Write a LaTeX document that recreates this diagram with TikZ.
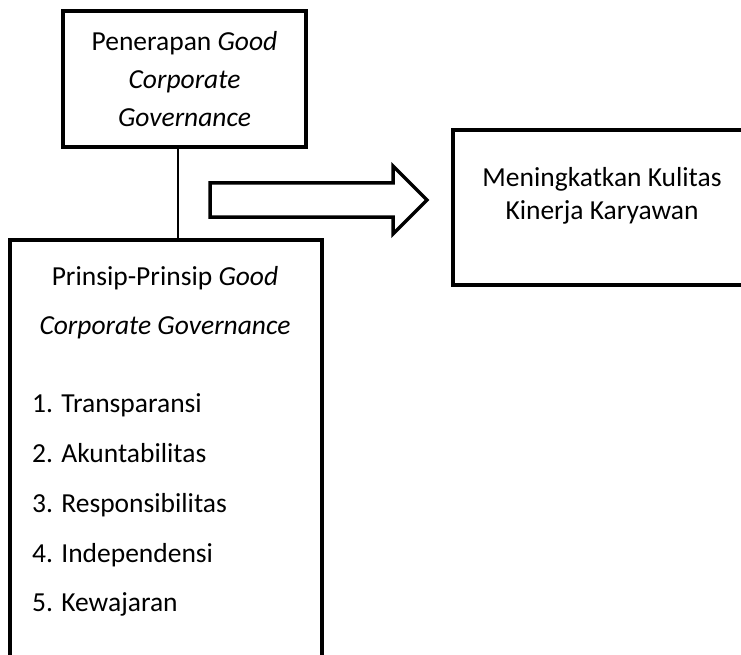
\documentclass[tikz,border=0pt]{standalone}
\usepackage{fontspec}
\setmainfont{Carlito}
\usetikzlibrary{positioning, calc}

\begin{document}
\begin{tikzpicture}[
            x=1pt, y=-1pt,
            box/.style={rectangle, draw, line width=3.5pt, inner sep=0pt, outer sep=0pt},
            txt/.style={font=\fontsize{27.5}{38}\selectfont, align=center, inner sep=0pt},
            item/.style={font=\fontsize{27.5}{33}\selectfont, anchor=base west, inner sep=0pt},
            link/.style={line width=1.2pt},
            bigarrow/.style={draw, line width=3.5pt, line join=miter},
        ]
            \useasboundingbox (0,0) rectangle (741,655);

            % Penerapan box at the top
            \node[box, minimum width=243pt, minimum height=136pt, txt] (gcg) at (184.5,79)
                {Penerapan \textit{Good}\\\textit{Corporate}\\\textit{Governance}};

            % Principles box, runs past the bottom edge
            \node[box, minimum width=312pt, minimum height=460pt] (prinsip) at (166,470) {};
            \node[txt] (prtitle) at (165,278) {Prinsip-Prinsip \textit{Good}};
            \node[txt, below=50pt of prtitle.center, anchor=center] (prsub)
                {\textit{Corporate Governance}};
            \node[item] (p1) at (32,412) {1. Transparansi};
            \node[item, below=50pt of p1.base west, anchor=base west] (p2) {2. Akuntabilitas};
            \node[item, below=50pt of p2.base west, anchor=base west] (p3) {3. Responsibilitas};
            \node[item, below=50pt of p3.base west, anchor=base west] (p4) {4. Independensi};
            \node[item, below=49pt of p4.base west, anchor=base west] (p5) {5. Kewajaran};

            \draw[link] ([xshift=-6.5pt]gcg.south) -- ([xshift=-6.5pt]gcg.south |- prinsip.north);

            % Outcome box on the right, cut by the page edge
            \node[box, minimum width=347pt, minimum height=155pt] (kinerja) at (626.5,207.5) {};
            \node[txt, font=\fontsize{27.5}{33}\selectfont] (kjtext) at (602,196)
                {Meningkatkan Kulitas\\Kinerja Karyawan};

            % Block arrow
            \draw[bigarrow] (210,183) -- (393,183) -- (393,166) -- (427,200)
                -- (393,234) -- (393,217) -- (210,217) -- cycle;
        \end{tikzpicture}
\end{document}
